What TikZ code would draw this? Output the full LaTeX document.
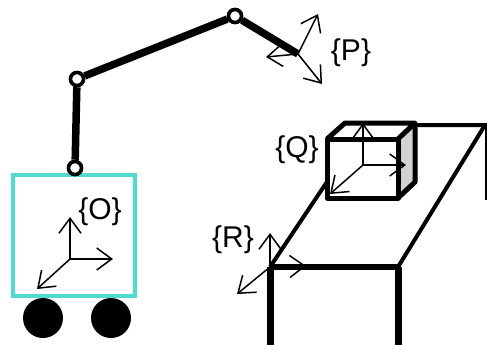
\documentclass[tikz,border=0pt]{standalone}
\usepackage{fontspec}
\setmainfont{Liberation Sans}
\usetikzlibrary{arrows.meta}
\definecolor{basecyan}{RGB}{80,218,208}
\begin{document}
\begin{tikzpicture}[x=1pt, y=-1pt,
    joint/.style = {draw, circle, fill=white, line width=3.5pt, minimum size=13pt, inner sep=0pt},
    link/.style = {line width=7.5pt},
    axis/.style = {line width=1.5pt, -{Straight Barb[length=15pt,width=22pt]}},
    edge/.style = {line width=5pt, line join=round},
    label/.style = {font=\fontsize{30pt}{34pt}\selectfont, inner sep=0pt}]
        \useasboundingbox (0,0) rectangle (487,345);
        % mobile base
        \draw[basecyan, line width=4pt] (13,175) rectangle (135,296);
        \fill (43,318) circle (20);
        \fill (111,318) circle (20);
        % arm
        \node[joint] (j0) at (75,168) {};
        \node[joint] (j1) at (77,79) {};
        \node[joint] (j2) at (235,16) {};
        \coordinate (tool) at (298,54);
        \draw[link] (j0) -- (j1) -- (j2) -- (tool);
        \node[joint] at (j0) {};
        \node[joint] at (j1) {};
        \node[joint] at (j2) {};
        % frame O
        \coordinate (o) at (70,259);
        \coordinate (ox) at (113,259);
        \coordinate (oy) at (70,217);
        \coordinate (oz) at (37,289);
        \draw[axis] (o) -- (ox);
        \draw[axis] (o) -- (oy);
        \draw[axis] (o) -- (oz);
        \node[label] (lo) at (100,212) {\{O\}};
        % frame P
        \coordinate (px) at (322,84);
        \coordinate (py) at (318,14);
        \coordinate (pz) at (266,57);
        \draw[axis] (tool) -- (px);
        \draw[axis] (tool) -- (py);
        \draw[axis] (tool) -- (pz);
        \node[label] (lp) at (351,53) {\{P\}};
        % table
        \coordinate (r) at (270,267);
        \coordinate (fr) at (398,267);
        \coordinate (bl) at (365,125);
        \coordinate (br) at (485,125);
        \draw[line width=4pt] (r) -- (bl) -- (490,125);
        \draw[line width=4pt] (fr) -- (br);
        \draw[line width=3pt] (486,125) -- (486,200);
        \draw[line width=6pt] (r) -- (fr);
        \draw[line width=7pt] (r) -- (270,345);
        \draw[line width=7pt] (fr) -- (398,345);
        % frame R
        \coordinate (rx) at (306,266);
        \coordinate (ry) at (270,233);
        \coordinate (rz) at (237,294);
        \draw[axis] (r) -- (rx);
        \draw[axis] (r) -- (ry);
        \draw[axis] (r) -- (rz);
        \node[label] (lr) at (233,240) {\{R\}};
        % box on the table
        \fill[white] (327,139) -- (345,123) -- (415,123) -- (415,182) -- (398,198) -- (327,198) -- cycle;
        \fill[gray!35] (398,139) -- (415,123) -- (415,182) -- (398,198) -- cycle;
        \draw[edge] (327,139) rectangle (398,198);
        \draw[edge] (327,139) -- (345,123) -- (415,123) -- (398,139);
        \draw[edge] (415,123) -- (415,182) -- (398,198);
        % frame Q
        \coordinate (q) at (363,165);
        \coordinate (qx) at (406,165);
        \coordinate (qy) at (363,123);
        \coordinate (qz) at (330,194);
        \draw[axis] (q) -- (qx);
        \draw[axis] (q) -- (qy);
        \draw[axis] (q) -- (qz);
        \node[label] (lq) at (297,150) {\{Q\}};
\end{tikzpicture}
\end{document}
